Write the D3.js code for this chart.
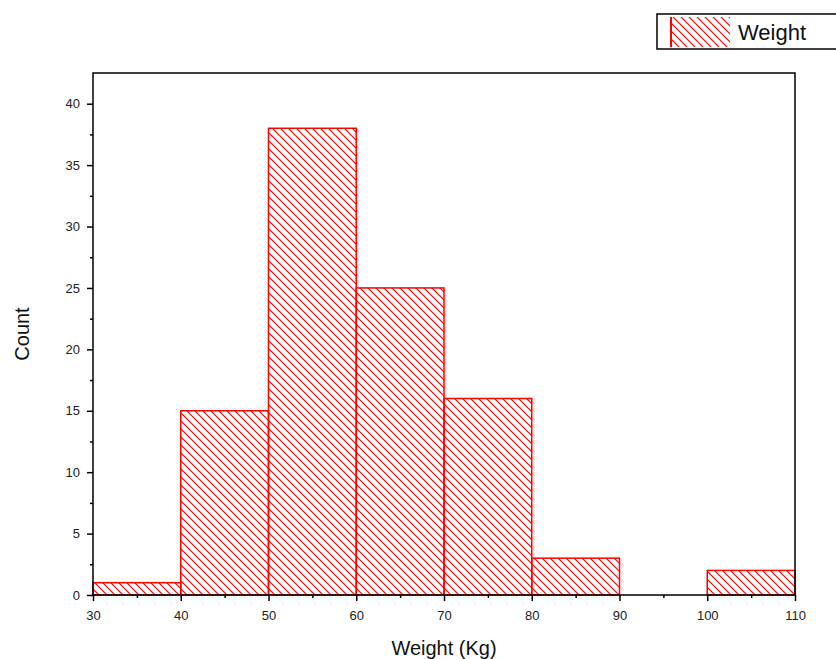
<!DOCTYPE html>
<html><head><meta charset="utf-8">
<script src="https://cdn.jsdelivr.net/npm/d3@7"></script>
<style>body{margin:0;background:#fff;} svg{display:block;font-family:"Liberation Sans",Arial,sans-serif;}</style>
</head><body>
<script>
const binStarts = [30, 40, 50, 60, 70, 80, 90, 100];
const binWidth = 10;
const counts = [1, 15, 38, 25, 16, 3, 0, 2];
const xTicks = [30, 40, 50, 60, 70, 80, 90, 100, 110];
const yTicks = [0, 5, 10, 15, 20, 25, 30, 35, 40];
const seriesName = "Weight";

const W = 836, H = 659;
const m = {left: 93, right: 41, top: 73, bottom: 64};
const svg = d3.select("body").append("svg").attr("width", W).attr("height", H);
const defs = svg.append("defs");
const P = 8;
const pat = defs.append("pattern").attr("id", "hatch").attr("patternUnits", "userSpaceOnUse")
  .attr("width", P).attr("height", P);
pat.append("path").attr("d", `M0,0 L${P},${P} M${-P/2},${P/2} L${P/2},${P*1.5} M${P/2},${-P/2} L${P*1.5},${P/2}`)
  .attr("stroke", "#ff0000").attr("stroke-width", 1.2);

const x = d3.scaleLinear().domain([30, 110]).range([m.left, W - m.right]);
const y = d3.scaleLinear().domain([0, 42.5]).range([H - m.bottom, m.top]);

// bars
svg.append("g").selectAll("rect").data(binStarts.map((s, i) => ({s, c: counts[i]})).filter(d => d.c > 0))
  .join("rect")
  .attr("x", d => x(d.s)).attr("width", d => x(d.s + binWidth) - x(d.s))
  .attr("y", d => y(d.c)).attr("height", d => y(0) - y(d.c))
  .attr("fill", "url(#hatch)").attr("stroke", "#ff0000").attr("stroke-width", 1.5);

// frame
svg.append("rect").attr("x", m.left).attr("y", m.top).attr("width", W - m.right - m.left)
  .attr("height", H - m.bottom - m.top).attr("fill", "none").attr("stroke", "#000").attr("stroke-width", 1.5);

// axes
const xAxis = svg.append("g").attr("transform", `translate(0,${H - m.bottom})`)
  .call(d3.axisBottom(x).tickValues(xTicks).tickSize(6).tickPadding(10).tickFormat(d3.format("d")));
const xMinor = svg.append("g").attr("transform", `translate(0,${H - m.bottom})`)
  .call(d3.axisBottom(x).tickValues(d3.range(35, 110, 10)).tickSize(3).tickFormat(""));
const yAxis = svg.append("g").attr("transform", `translate(${m.left},0)`)
  .call(d3.axisLeft(y).tickValues(yTicks).tickSize(6).tickPadding(7));
const yMinor = svg.append("g").attr("transform", `translate(${m.left},0)`)
  .call(d3.axisLeft(y).tickValues(d3.range(2.5, 42.5, 5)).tickSize(3).tickFormat(""));
[xAxis, xMinor, yAxis, yMinor].forEach(g => {
  g.select(".domain").remove();
  g.selectAll("line").attr("stroke", "#000").attr("stroke-width", 1.5);
  g.selectAll("text").attr("fill", "#222").style("font-size", "13px").style("font-family", "'Liberation Sans',Arial,sans-serif");
});

// labels
svg.append("text").attr("x", (m.left + W - m.right) / 2).attr("y", 655).attr("text-anchor", "middle")
  .style("font-size", "20px").attr("fill", "#111").text("Weight (Kg)");
svg.append("text").attr("transform", `translate(29,${(m.top + H - m.bottom) / 2}) rotate(-90)`)
  .attr("text-anchor", "middle").style("font-size", "20px").attr("fill", "#111").text("Count");

// legend
const lg = svg.append("g");
lg.append("rect").attr("x", 657).attr("y", 14).attr("width", 190).attr("height", 35)
  .attr("fill", "#fff").attr("stroke", "#000").attr("stroke-width", 1.5);
lg.append("rect").attr("x", 671).attr("y", 17).attr("width", 59).attr("height", 30).attr("fill", "url(#hatch)");
lg.append("line").attr("x1", 671).attr("x2", 671).attr("y1", 17).attr("y2", 47).attr("stroke", "#ff0000").attr("stroke-width", 2);
lg.append("text").attr("x", 738).attr("y", 40).style("font-size", "22px").attr("fill", "#111").text(seriesName);
</script>
</body></html>
